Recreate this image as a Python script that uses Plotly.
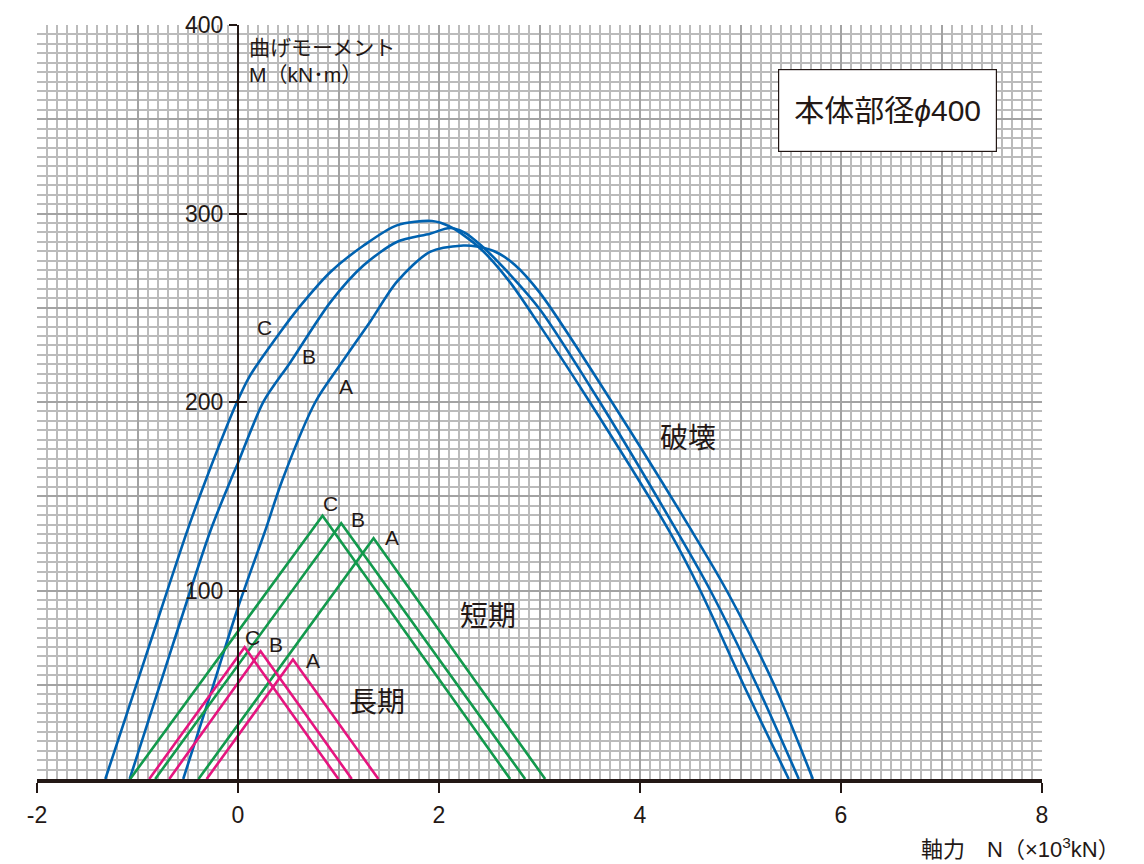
import plotly.graph_objects as go

# Axial force N (x10^3 kN) and bending moment M (kN·m)
# Failure curves (破壊)
fail_C_N = [-1.32, -0.90, -0.505, -0.325, -0.01, 0.12, 0.42, 0.62, 0.92, 1.25, 1.58, 1.93, 2.11, 2.40, 2.70, 3.01, 3.50, 4.29, 4.60, 5.03, 5.48]
fail_C_M = [0, 68, 131.6, 158, 200, 214, 237, 251, 269, 283, 293.7, 296, 293, 282, 264, 240, 200, 131.6, 100, 50, 0]

fail_B_N = [-1.078, -0.65, -0.275, -0.077, 0.0, 0.255, 0.52, 0.92, 1.25, 1.58, 1.91, 2.11, 2.25, 2.42, 2.70, 3.01, 3.60, 4.366, 4.70, 5.16, 5.58]
fail_B_M = [0, 71, 131.6, 158, 167.7, 200.3, 221, 253, 272.5, 284.9, 289.3, 292.3, 290, 283, 268, 248.7, 200, 131.6, 100, 50, 0]

fail_A_N = [-0.545, -0.25, 0.0, 0.27, 0.437, 0.77, 1.02, 1.315, 1.58, 1.91, 2.243, 2.376, 2.55, 2.75, 3.01, 3.72, 4.515, 4.862, 5.335, 5.72]
fail_A_M = [0, 49, 91, 131.6, 158, 200, 220, 242.6, 263.7, 279.6, 283, 282.5, 280, 273, 257.5, 200, 131.6, 100, 50, 0]

# Short-term allowable (短期)
short_C_N = [-1.073, 0.841, 2.708]
short_C_M = [0, 139.7, 0]
short_B_N = [-0.824, 1.027, 2.857]
short_B_M = [0, 135.7, 0]
short_A_N = [-0.393, 1.349, 3.056]
short_A_M = [0, 127.7, 0]

# Long-term allowable (長期)
long_C_N = [-0.883, 0.066, 0.999]
long_C_M = [0, 69.9, 0]
long_B_N = [-0.684, 0.225, 1.132]
long_B_M = [0, 67.8, 0]
long_A_N = [-0.312, 0.547, 1.397]
long_A_M = [0, 63.4, 0]

x_tick_vals = [-2, 0, 2, 4, 6, 8]
x_tick_text = ["-2", "0", "2", "4", "6", "8"]
y_tick_vals = [100, 200, 300, 400]

BLUE = "#0062b0"
GREEN = "#12994c"
PINK = "#e5157f"
INK = "#231815"
LATIN = "Liberation Sans, Noto Sans CJK JP, sans-serif"
CJK = "Noto Sans CJK JP, sans-serif"

fig = go.Figure()

# failure curves on the gridded base axes
for n, m in [(fail_C_N, fail_C_M), (fail_B_N, fail_B_M), (fail_A_N, fail_A_M)]:
    fig.add_trace(go.Scatter(x=n, y=m, mode="lines",
                             line=dict(color=BLUE, width=2.6, shape="spline", smoothing=0.8),
                             showlegend=False, hoverinfo="skip"))
# short-term lines on the labelled axes (x2 / y2)
for n, m in [(short_C_N, short_C_M), (short_B_N, short_B_M), (short_A_N, short_A_M)]:
    fig.add_trace(go.Scatter(x=n, y=m, mode="lines", line=dict(color=GREEN, width=2.6),
                             xaxis="x2", yaxis="y2",
                             showlegend=False, hoverinfo="skip"))
# long-term lines on x2 / y3 (y3 carries the inward half of the tick crosses)
for n, m in [(long_C_N, long_C_M), (long_B_N, long_B_M), (long_A_N, long_A_M)]:
    fig.add_trace(go.Scatter(x=n, y=m, mode="lines", line=dict(color=PINK, width=2.6),
                             xaxis="x2", yaxis="y3",
                             showlegend=False, hoverinfo="skip"))

# Curve letters
letters = [
    ("C", 0.267, 239.4), ("B", 0.71, 224.1), ("A", 1.07, 208.2),
    ("C", 0.916, 146.4), ("B", 1.194, 137.9), ("A", 1.532, 127.9),
    ("C", 0.149, 75.2), ("B", 0.38, 71.4), ("A", 0.75, 62.9),
]
for t, x, y in letters:
    fig.add_annotation(x=x, y=y, text=t, showarrow=False,
                       font=dict(family=LATIN, size=21, color=INK))

# Region names
for t, x, y in [("破壊", 4.477, 181.8), ("短期", 2.49, 87.7), ("長期", 1.385, 41.8)]:
    fig.add_annotation(x=x, y=y, text=t, showarrow=False,
                       font=dict(family=CJK, size=28, color=INK))

# Pile diameter box
fig.add_annotation(x=6.46, y=354.4, text="本体部径<i>ϕ</i>400", showarrow=False,
                   font=dict(family=LATIN, size=30, color=INK),
                   bgcolor="white", bordercolor=INK, borderwidth=1.2,
                   width=217, height=81, borderpad=0)

# Axis titles
fig.add_annotation(xref="x", yref="paper", x=0, y=1, xshift=9, yshift=-9,
                   xanchor="left", yanchor="top", align="left", showarrow=False,
                   text="曲げモーメント<br>M（kN･m）",
                   font=dict(family=LATIN, size=21, color=INK))
fig.add_annotation(xref="paper", yref="paper", x=1.08, y=0, yshift=-69,
                   xanchor="right", yanchor="middle", showarrow=False,
                   text="軸力　N（×10<sup>3</sup>kN）",
                   font=dict(family=LATIN, size=22, color=INK))

fig.update_layout(
    width=1144, height=864,
    margin=dict(l=37, r=102, t=22, b=85),
    paper_bgcolor="white", plot_bgcolor="white",
    showlegend=False,
    xaxis=dict(range=[-2, 8], dtick=1, showgrid=True, gridcolor="#a3a3a3", gridwidth=2.2,
               minor=dict(dtick=0.1, showgrid=True, gridcolor="#bbbbbb", gridwidth=1.5),
               showticklabels=False, ticks="", zeroline=False, showline=False),
    yaxis=dict(range=[0, 400], dtick=50, showgrid=True, gridcolor="#a3a3a3", gridwidth=2.2,
               minor=dict(dtick=5, showgrid=True, gridcolor="#bbbbbb", gridwidth=1.5),
               showticklabels=False, ticks="", zeroline=False, showline=False),
    xaxis2=dict(overlaying="x", anchor="y2", side="bottom", range=[-2, 8],
                tickvals=x_tick_vals, ticktext=x_tick_text, ticks="outside", ticklen=10,
                tickwidth=2, tickcolor=INK, showline=True, linewidth=3.5, linecolor=INK,
                showgrid=False, zeroline=False, ticklabelstandoff=3,
                tickfont=dict(family=LATIN, size=23, color=INK)),
    yaxis2=dict(overlaying="y", anchor="free", position=0.2, side="left", range=[0, 400],
                tickvals=y_tick_vals, ticks="outside", ticklen=8, tickwidth=2,
                tickcolor=INK, showline=True, linewidth=2, linecolor=INK,
                showgrid=False, zeroline=False, ticklabelstandoff=1,
                tickfont=dict(family=LATIN, size=23, color=INK)),
    yaxis3=dict(overlaying="y", anchor="free", position=0.2, side="left", range=[0, 400],
                tickvals=y_tick_vals, ticks="inside", ticklen=8, tickwidth=2,
                tickcolor=INK, showline=False, showticklabels=False,
                showgrid=False, zeroline=False),
)

fig.write_html("out.html")
